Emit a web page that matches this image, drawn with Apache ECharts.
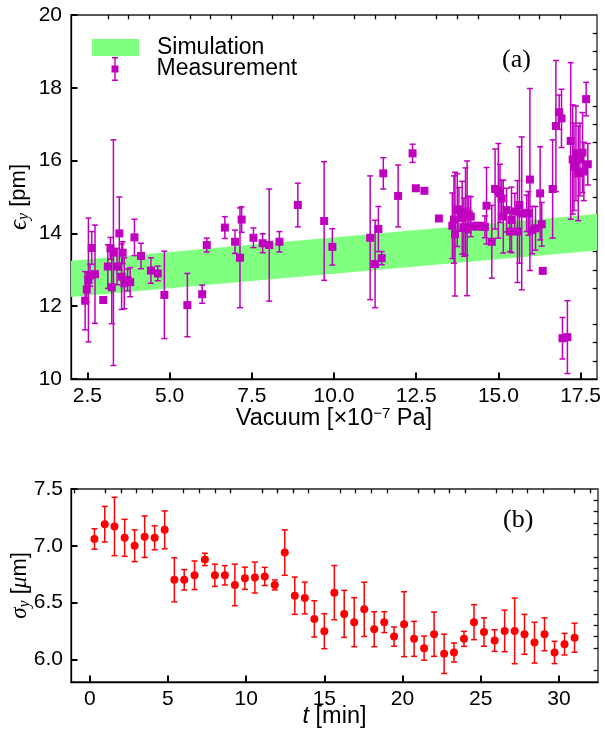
<!DOCTYPE html>
<html><head><meta charset="utf-8">
<script src="https://cdn.jsdelivr.net/npm/echarts@6/dist/echarts.min.js"></script>
<style>html,body{margin:0;padding:0;background:#fff}#c{width:605px;height:730px}</style>
</head><body><div id="c"></div>
<script>
// ---------- Panel (a): emittance vs vacuum ----------
const vacX = [2.43,2.48,2.53,2.58,2.63,2.73,2.98,3.12,3.2,3.24,3.29,3.4,3.47,3.54,3.57,3.62,3.72,3.8,3.93,4.13,4.43,4.64,4.84,
  5.54,5.99,6.13,6.68,6.99,7.14,7.19,7.55,7.83,8.03,8.34,8.9,9.7,9.95,11.1,11.25,11.35,11.45,11.5,11.95,12.39,12.49,12.75,13.19,
  13.6,13.65,13.68,13.75,13.8,13.9,13.95,14.0,14.05,14.1,14.16,14.23,14.36,14.48,14.59,14.64,14.8,14.9,15.0,15.05,15.1,15.15,15.25,15.35,15.4,15.5,15.58,15.64,15.71,15.86,15.91,15.96,16.03,16.13,16.27,16.32,16.35,
  16.65,16.75,16.85,16.92,16.95,17.1,17.2,17.26,17.3,17.36,17.43,17.48,17.56,17.6,17.67,17.72];
const emitY = [12.15,12.46,12.72,12.85,13.6,12.88,12.17,13.09,13.59,12.52,13.47,13.09,14.0,12.81,13.47,12.63,12.72,12.66,13.89,13.38,12.98,12.9,12.31,
  12.03,12.33,13.68,14.16,13.77,13.33,14.38,13.88,13.73,13.68,13.77,14.78,14.34,13.63,13.88,13.16,14.12,13.32,15.65,15.03,16.2,15.24,15.17,14.41,
  14.21,14.38,13.98,14.64,14.66,14.43,14.17,14.6,14.14,14.52,14.46,14.2,14.2,14.2,14.18,14.76,13.77,15.22,15.17,15.1,14.96,14.46,14.64,14.05,14.37,14.6,14.05,14.78,14.55,14.55,14.55,15.48,14.09,14.14,15.1,14.25,12.97,
  15.22,16.95,17.33,17.16,11.12,11.15,16.54,16.03,15.83,16.2,15.65,16.03,16.22,15.7,17.69,15.9];
const emitErr = [0.8,0.35,1.7,0.3,0.45,1.35,0.05,0.6,0.3,1.0,3.1,0.5,1.0,0.9,0.3,0.7,0.3,0.4,0.5,0.35,0.35,0.2,1.2,
  0.87,0.25,0.19,0.3,0.32,1.37,0.35,0.27,0.26,1.54,0.28,0.6,1.63,0.5,1.7,1.2,0.62,0.18,0.43,0.85,0.25,0.05,0.05,0.05,
  0.9,1.2,1.7,1.0,0.6,1.0,0.8,1.2,1.85,0.5,0.55,0.1,0.1,0.1,0.3,1.05,1.0,1.1,1.3,0.8,0.5,1.0,0.6,0.55,0.9,0.5,1.4,1.6,2.1,0.5,0.6,2.5,0.65,0.6,1.28,0.6,0.05,
  1.35,1.8,0.47,0.8,0.57,1.0,2.15,1.5,1.2,1.3,1.3,1.0,1.1,0.8,0.46,0.57];
const bandX = [2.0, 18.0];
const bandLow = [12.25, 13.53];
const bandHigh = [13.25, 14.53];
const vacTicks = [2.5,5,7.5,10,12.5,15,17.5];
const vacMinor = [3.125,3.75,4.375,5.625,6.25,6.875,8.125,8.75,9.375,10.625,11.25,11.875,13.125,13.75,14.375,15.625,16.25,16.875];
const emitTicks = [10,12,14,16,18,20];
const emitMinor = [10.5,11,11.5,12.5,13,13.5,14.5,15,15.5,16.5,17,17.5,18.5,19,19.5];

// ---------- Panel (b): beam size vs time ----------
const timeT = [0.3,0.96,1.58,2.23,2.87,3.51,4.15,4.79,5.41,6.04,6.7,7.36,8.0,8.64,9.28,9.92,10.56,11.19,11.83,12.47,13.11,13.75,
  14.36,15.0,15.64,16.27,16.91,17.55,18.19,18.83,19.46,20.1,20.74,21.38,22.02,22.66,23.29,23.93,24.57,25.21,25.89,26.53,27.17,27.8,28.44,29.08,29.72,30.36,31.0];
const sigmaY = [7.06,7.19,7.17,7.07,7.0,7.08,7.07,7.14,6.7,6.7,6.74,6.88,6.74,6.74,6.655,6.714,6.72,6.73,6.655,6.94,6.56,6.54,
  6.356,6.247,6.587,6.4,6.327,6.44,6.265,6.327,6.2,6.309,6.18,6.098,6.221,6.048,6.06,6.18,6.327,6.24,6.165,6.25,6.25,6.22,6.147,6.22,6.06,6.133,6.19];
const sigmaErr = [0.09,0.157,0.257,0.163,0.14,0.183,0.106,0.167,0.194,0.09,0.126,0.054,0.098,0.085,0.183,0.098,0.136,0.08,0.044,0.2,0.164,0.14,
  0.16,0.154,0.239,0.207,0.216,0.239,0.154,0.092,0.085,0.286,0.154,0.106,0.195,0.173,0.084,0.066,0.154,0.125,0.095,0.183,0.289,0.176,0.18,0.145,0.098,0.095,0.128];
const timeTicks = [0,5,10,15,20,25,30];
const timeMinor = [-1,1,2,3,4,6,7,8,9,11,12,13,14,16,17,18,19,21,22,23,24,26,27,28,29,31,32];
const sigmaTicks = [6.0,6.5,7.0,7.5];
const sigmaMinor = [5.9,6.1,6.2,6.3,6.4,6.6,6.7,6.8,6.9,7.1,7.2,7.3,7.4];

const MAG = '#bf00bf', RED = '#ff0000', GREEN = '#80ff80';
const SANS = 'Liberation Sans', SERIF = 'Liberation Serif';
const TICK_FS = 21;

function errRender(color, cap) {
  return function (params, api) {
    const x = api.value(0), y = api.value(1), e = api.value(2);
    const t = api.coord([x, y + e]), b = api.coord([x, y - e]);
    const st = { stroke: color, lineWidth: 1.5 };
    return { type: 'group', children: [
      { type: 'line', shape: { x1: t[0], y1: t[1], x2: b[0], y2: b[1] }, style: st },
      { type: 'line', shape: { x1: t[0] - cap, y1: t[1], x2: t[0] + cap, y2: t[1] }, style: st },
      { type: 'line', shape: { x1: b[0] - cap, y1: b[1], x2: b[0] + cap, y2: b[1] }, style: st }
    ]};
  };
}
function bandRender(params, api) {
  const p = [
    api.coord([api.value(0), api.value(1)]),
    api.coord([api.value(3), api.value(4)]),
    api.coord([api.value(3), api.value(5)]),
    api.coord([api.value(0), api.value(2)])
  ];
  return { type: 'polygon', shape: { points: p }, style: { fill: GREEN } };
}

function majorAxis(gridIndex, min, max, ticks, fmt, margin, extra) {
  return Object.assign({
    type: 'value', gridIndex, min, max, nameMoveOverlap: false,
    axisLine: { show: true, onZero: false, lineStyle: { color: '#000', width: 1.3 } },
    axisTick: { show: true, inside: true, length: 6.5, customValues: ticks, lineStyle: { color: '#000', width: 2 } },
    axisLabel: { show: true, customValues: ticks, formatter: fmt, fontFamily: SANS, fontSize: TICK_FS, color: '#000', margin: margin },
    splitLine: { show: false }
  }, extra || {});
}
function minorAxis(gridIndex, min, max, ticks, extra) {
  return Object.assign({
    type: 'value', gridIndex, min, max,
    axisLine: { show: false, onZero: false },
    axisTick: { show: true, inside: true, length: 4.3, customValues: ticks, lineStyle: { color: '#000', width: 1.3 } },
    axisLabel: { show: false },
    splitLine: { show: false }
  }, extra || {});
}

const bandData = [];
for (let i = 0; i < bandX.length - 1; i++) {
  bandData.push([bandX[i], bandLow[i], bandHigh[i], bandX[i + 1], bandLow[i + 1], bandHigh[i + 1]]);
}
const emitData = vacX.map((x, i) => [x, emitY[i], emitErr[i]]);
const sigmaData = timeT.map((x, i) => [x, sigmaY[i], sigmaErr[i]]);

const chart = echarts.init(document.getElementById('c'), null, { renderer: 'canvas' });
chart.setOption({
  animation: false,
  backgroundColor: '#fff',
  grid: [
    { left: 71, top: 15, width: 526, height: 364, show: true, borderColor: '#222', borderWidth: 1.3, backgroundColor: 'transparent', containLabel: false, outerBoundsMode: 'none' },
    { left: 71, top: 489, width: 527, height: 193, show: true, borderColor: '#222', borderWidth: 1.3, backgroundColor: 'transparent', containLabel: false, outerBoundsMode: 'none' }
  ],
  xAxis: [
    majorAxis(0, 2, 18, vacTicks, v => v.toFixed(1), 7, {
      name: '{a|Vacuum [×10}{s|−7}{a| Pa]}', nameLocation: 'middle', nameGap: 27,
      nameTextStyle: { rich: {
        a: { fontFamily: SANS, fontSize: 23.5, color: '#000', lineHeight: 25 },
        s: { fontFamily: SANS, fontSize: 15, color: '#000', lineHeight: 14, verticalAlign: 'top' }
      } }
    }),
    minorAxis(0, 2, 18, vacMinor),
    majorAxis(1, -1.2, 32.5, timeTicks, v => String(v), 7, {
      name: '{i|t}{a| [min]}', nameLocation: 'middle', nameGap: 22,
      nameTextStyle: { rich: {
        i: { fontFamily: SANS, fontStyle: 'italic', fontSize: 23.5, color: '#000', lineHeight: 25 },
        a: { fontFamily: SANS, fontSize: 23.5, color: '#000', lineHeight: 25 }
      } }
    }),
    minorAxis(1, -1.2, 32.5, timeMinor)
  ],
  yAxis: [
    majorAxis(0, 10, 20, emitTicks, v => String(v), 9, {
      name: '{g|ϵ}{s|y}{a| [pm]}', nameLocation: 'middle', nameGap: 39, nameRotate: 90,
      nameTextStyle: { rich: {
        g: { fontFamily: SERIF, fontStyle: 'italic', fontSize: 25, color: '#000', lineHeight: 26 },
        s: { fontFamily: SERIF, fontStyle: 'italic', fontSize: 16, color: '#000', lineHeight: 14, verticalAlign: 'bottom' },
        a: { fontFamily: SANS, fontSize: 22, color: '#000', lineHeight: 26 }
      } }
    }),
    minorAxis(0, 10, 20, emitMinor),
    majorAxis(1, 5.8, 7.5, sigmaTicks, v => v.toFixed(1), 8, {
      name: '{g|σ}{s|y}{a| [}{g|μ}{a|m]}', nameLocation: 'middle', nameGap: 38, nameRotate: 90,
      nameTextStyle: { rich: {
        g: { fontFamily: SERIF, fontStyle: 'italic', fontSize: 23, color: '#000', lineHeight: 26 },
        s: { fontFamily: SERIF, fontStyle: 'italic', fontSize: 16, color: '#000', lineHeight: 14, verticalAlign: 'bottom' },
        a: { fontFamily: SANS, fontSize: 22, color: '#000', lineHeight: 26 }
      } }
    }),
    minorAxis(1, 5.8, 7.5, sigmaMinor)
  ],
  legend: [
    { data: [{ name: 'Simulation', icon: 'rect', itemStyle: { color: GREEN } }],
      left: 92, top: 36, padding: 0, itemWidth: 47, itemHeight: 17, selectedMode: false,
      textStyle: { fontFamily: SANS, fontSize: 23, color: '#000', padding: [0, 0, 0, 13] } },
    { data: [{ name: 'Measurement', icon: 'path://M0.5,0H6.5V1.4H4.2V8.5H7V15.5H4.2V22.6H6.5V24H0.5V22.6H2.8V15.5H0V8.5H2.8V1.4H0.5Z', itemStyle: { color: MAG } }],
      left: 111.5, top: 57, padding: 0, itemWidth: 7, itemHeight: 24, selectedMode: false,
      textStyle: { fontFamily: SANS, fontSize: 23, color: '#000', padding: [0, 0, 0, 33] } }
  ],
  graphic: [
    { type: 'text', left: 502, top: 47, style: { text: '(a)', font: '26px "Liberation Serif"', fill: '#000' } },
    { type: 'text', left: 503, top: 507, style: { text: '(b)', font: '26px "Liberation Serif"', fill: '#000' } }
  ],
  series: [
    { name: 'Simulation', type: 'custom', xAxisIndex: 0, yAxisIndex: 0, renderItem: bandRender,
      itemStyle: { color: GREEN }, data: bandData, encode: { x: [0, 3], y: [1, 2, 4, 5] }, clip: true, silent: true },
    { name: 'Measurement', type: 'custom', xAxisIndex: 0, yAxisIndex: 0, renderItem: errRender(MAG, 3),
      itemStyle: { color: MAG }, data: emitData, encode: { x: 0, y: 1 }, clip: true, silent: true },
    { name: 'Measurement', type: 'scatter', xAxisIndex: 0, yAxisIndex: 0, symbol: 'rect', symbolSize: 8,
      itemStyle: { color: MAG, opacity: 1 }, data: emitData.map(d => [d[0], d[1]]), silent: true },
    { name: 'sigma-err', type: 'custom', xAxisIndex: 2, yAxisIndex: 2, renderItem: errRender(RED, 3),
      itemStyle: { color: RED }, data: sigmaData, encode: { x: 0, y: 1 }, clip: true, silent: true },
    { name: 'sigma', type: 'scatter', xAxisIndex: 2, yAxisIndex: 2, symbol: 'circle', symbolSize: 8,
      itemStyle: { color: RED, opacity: 1 }, data: sigmaData.map(d => [d[0], d[1]]), silent: true }
  ]
});
</script>
</body></html>
